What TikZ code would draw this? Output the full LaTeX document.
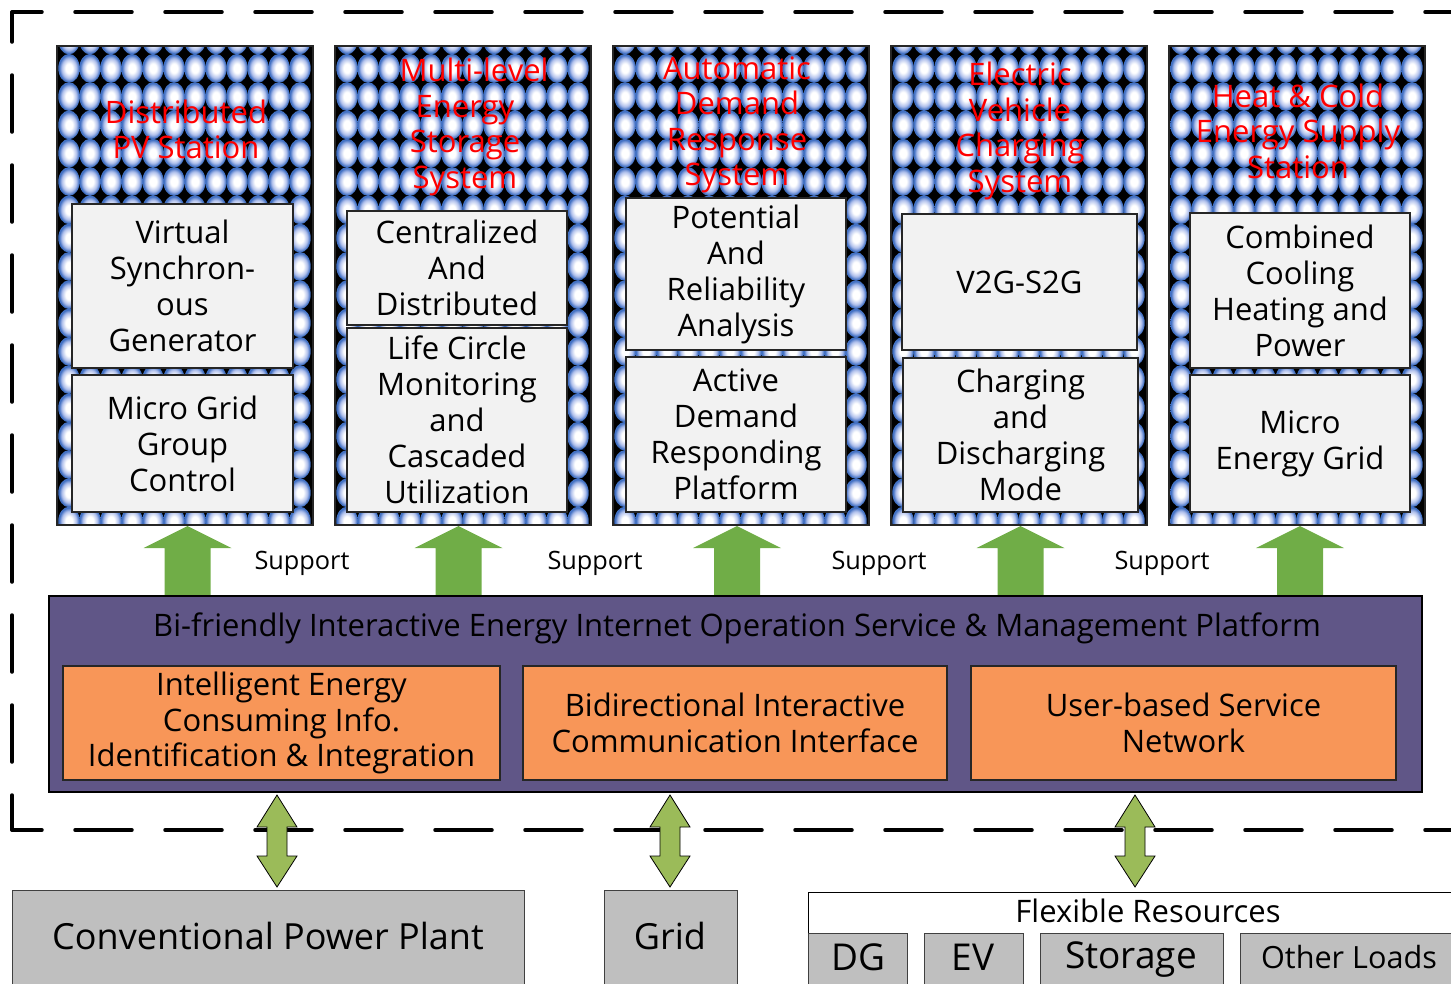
\documentclass[tikz,border=0pt]{standalone}
\usepackage{fontspec}
\setmainfont{Open Sans}
\usetikzlibrary{calc}
\definecolor{ballblue}{RGB}{68,114,196}
\definecolor{ballmid}{RGB}{176,192,236}
\definecolor{boxgray}{RGB}{242,242,242}
\definecolor{platpurple}{RGB}{96,86,135}
\definecolor{infoorange}{RGB}{248,150,88}
\definecolor{upgreen}{RGB}{112,173,71}
\definecolor{dblgreen}{RGB}{155,187,89}
\definecolor{resgray}{RGB}{191,191,191}
\pgfdeclareradialshading{bulb}{\pgfpoint{0bp}{0bp}}{color(0bp)=(white); color(8bp)=(white); color(17bp)=(ballmid); color(23bp)=(ballblue); color(25bp)=(ballblue); color(50bp)=(ballblue)}
\def\ballpanel(#1){%
  \begin{scope}
    \clip (#1,46) rectangle ++(256,479);
    \fill[black] (#1,46) rectangle ++(256,479);
    \foreach \i in {0,...,11}
      \foreach \j in {0,...,17}
        \shade[shading=bulb] ({#1+12+21*\i},{40+28.3*\j}) ellipse (10.7 and 14.4);
  \end{scope}
  \draw[line width=2, draw=black!85] (#1,46) rectangle ++(256,479);
}
\def\uparrowblk(#1){\fill[upgreen] (#1,526) -- ({#1+44},548) -- ({#1+23},548) -- ({#1+23},596) -- ({#1-23},596) -- ({#1-23},548) -- ({#1-44},548) -- cycle;}
\def\dblarrowblk(#1){\filldraw[fill=dblgreen, draw=black, line width=0.8] (#1,795) -- ({#1+20},827) -- ({#1+10},827) -- ({#1+10},856) -- ({#1+20},856) -- (#1,887) -- ({#1-20},856) -- ({#1-10},856) -- ({#1-10},827) -- ({#1-20},827) -- cycle;}

\begin{document}
\begin{tikzpicture}[x=1pt, y=-1pt,
    ttl/.style={text=red, align=center, font=\fontsize{31}{35.5}\selectfont},
    ibox/.style={draw=black!85, fill=boxgray, line width=1.2, align=center, inner sep=0, font=\fontsize{31}{36}\selectfont},
    obox/.style={draw=black!85, fill=infoorange, line width=1.2, align=center, inner sep=0, font=\fontsize{31}{35.5}\selectfont},
    gbox/.style={draw=black!75, fill=resgray, line width=1.2, inner sep=0},
    lbl/.style={font=\fontsize{25.3}{28}\selectfont}]
  \useasboundingbox (0,0) rectangle (1451,983);
  \clip (0,0) rectangle (1451,983);

  %%%%% outer frame %%%%%
  \draw[line width=3.5, dash pattern=on 57 off 33, dash phase=27, line cap=round] (12,12) -- (1480,12);
  \draw[line width=3.5, dash pattern=on 57 off 33, dash phase=27, line cap=round] (12,12) -- (12,830);
  \draw[line width=3.5, dash pattern=on 57 off 33, dash phase=27, line cap=round] (12,830) -- (1480,830);

  %%%%% application panels %%%%%
  \ballpanel(57)
  \ballpanel(335)
  \ballpanel(613)
  \ballpanel(891)
  \ballpanel(1169)

  \node[ttl] (pv) at (186,129.5) {Distributed\\PV Station};
  \node[ttl] (ess) at (465,127) {\hspace*{18pt}Multi-level\\Energy\\Storage\\System};
  \node[ttl] (adr) at (737,125) {Automatic\\Demand\\Response\\System};
  \node[ttl] (evc) at (1020,131) {Electric\\Vehicle\\Charging\\System};
  \node[ttl] (hcs) at (1298,131) {Heat \& Cold\\Energy Supply\\Station};

  \node[ibox, minimum width=221, minimum height=164] (vsg) at (182.5,286) {Virtual\\Synchron-\\ous\\Generator};
  \node[ibox, minimum width=221, minimum height=137] (mggc) at (182.5,443.5) {Micro Grid\\Group\\Control};
  \node[ibox, minimum width=220, minimum height=114] (cad) at (457,268) {Centralized\\And\\Distributed};
  \node[ibox, minimum width=220, minimum height=184] (lcm) at (457,420) {Life Circle\\Monitoring\\and\\Cascaded\\Utilization};
  \node[ibox, minimum width=220, minimum height=152] (pra) at (736,274) {Potential\\And\\Reliability\\Analysis};
  \node[ibox, minimum width=220, minimum height=155] (adrp) at (736,434.5) {Active\\Demand\\Responding\\Platform};
  \node[ibox, minimum width=235, minimum height=136] (vs) at (1019.5,282) {V2G-S2G};
  \node[ibox, minimum width=235, minimum height=154] (cdm) at (1020.5,435) {Charging\\and\\Discharging\\Mode};
  \node[ibox, minimum width=220, minimum height=155] (cchp) at (1300,290.5) {Combined\\Cooling\\Heating and\\Power};
  \node[ibox, minimum width=220, minimum height=137] (meg) at (1300,443.5) {Micro\\Energy Grid};

  %%%%% support arrows %%%%%
  \uparrowblk(187.5)
  \uparrowblk(458.5)
  \uparrowblk(737)
  \uparrowblk(1020.5)
  \uparrowblk(1300)
  \node[lbl] (sup1) at (302,563) {Support};
  \node[lbl] (sup2) at (595,563) {Support};
  \node[lbl] (sup3) at (879,563) {Support};
  \node[lbl] (sup4) at (1162,563) {Support};

  %%%%% platform %%%%%
  \node[draw=black, fill=platpurple, line width=2.5, minimum width=1373, minimum height=196, inner sep=0] (plat) at (735.5,694) {};
  \node[font=\fontsize{31}{35}\selectfont] (platttl) at (737,628) {Bi-friendly Interactive Energy Internet Operation Service \& Management Platform};
  \node[obox, minimum width=437, minimum height=114] (iec) at (281.5,723) {Intelligent Energy\\Consuming Info.\\Identification \& Integration};
  \node[obox, minimum width=424, minimum height=114] (bic) at (735,723) {Bidirectional Interactive\\Communication Interface};
  \node[obox, minimum width=425, minimum height=114] (usn) at (1183.5,723) {User-based Service\\Network};

  %%%%% exchange arrows %%%%%
  \dblarrowblk(277)
  \dblarrowblk(670)
  \dblarrowblk(1135)

  %%%%% resources %%%%%
  \node[gbox, minimum width=512, minimum height=120, anchor=north west] (cpp) at (12,890) {};
  \node[font=\fontsize{36}{40}\selectfont] at (268,936) {Conventional Power Plant};
  \node[gbox, minimum width=133, minimum height=120, anchor=north west] (grid) at (604,890) {};
  \node[font=\fontsize{36}{40}\selectfont] at (670,936) {Grid};
  \node[draw=black, fill=white, line width=1.2, minimum width=680, minimum height=120, anchor=north west, inner sep=0] (flex) at (808,892) {};
  \node[font=\fontsize{31}{35}\selectfont] at (1148,911) {Flexible Resources};
  \node[gbox, minimum width=99, minimum height=80, anchor=north west] (dg) at (808,933) {};
  \node[gbox, minimum width=99, minimum height=80, anchor=north west] (evl) at (924,933) {};
  \node[gbox, minimum width=183, minimum height=80, anchor=north west] (stor) at (1040,933) {};
  \node[gbox, minimum width=240, minimum height=80, anchor=north west] (oload) at (1240,933) {};
  \node[font=\fontsize{37}{40}\selectfont] at (858,957) {DG};
  \node[font=\fontsize{37}{40}\selectfont] at (973,957) {EV};
  \node[font=\fontsize{37}{40}\selectfont] at (1131,960) {Storage};
  \node[font=\fontsize{30.6}{34}\selectfont] at (1349,957) {Other Loads};
\end{tikzpicture}
\end{document}
